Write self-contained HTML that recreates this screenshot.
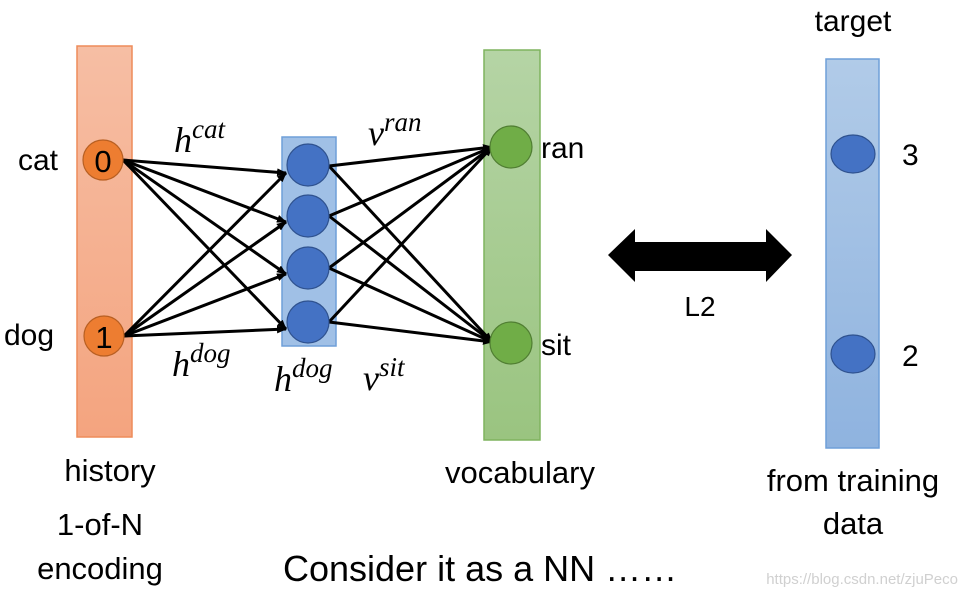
<!DOCTYPE html>
<html><head><meta charset="utf-8"><style>
html,body{margin:0;padding:0;background:#fff;}
svg{display:block;}
text{font-family:"Liberation Sans",sans-serif;fill:#000;}
.m{font-family:"Liberation Serif","DejaVu Serif",serif;font-style:italic;}
</style></head><body>
<svg width="969" height="593" viewBox="0 0 969 593" xmlns="http://www.w3.org/2000/svg">
<defs>
<linearGradient id="go" x1="0" y1="0" x2="0" y2="1"><stop offset="0" stop-color="#f6bea4"/><stop offset="1" stop-color="#f4a47f"/></linearGradient>
<linearGradient id="gg" x1="0" y1="0" x2="0" y2="1"><stop offset="0" stop-color="#b5d4a5"/><stop offset="1" stop-color="#9ac480"/></linearGradient>
<linearGradient id="gb" x1="0" y1="0" x2="0" y2="1"><stop offset="0" stop-color="#b1cbe8"/><stop offset="1" stop-color="#8fb3df"/></linearGradient>
<marker id="ah" markerWidth="10" markerHeight="8" refX="9" refY="4" orient="auto" markerUnits="userSpaceOnUse"><path d="M0,0 L10,4 L0,8 Z" fill="#000"/></marker>
</defs>
<rect x="77" y="46" width="55" height="391" fill="url(#go)" stroke="#ee8c5a" stroke-width="1.5"/>
<rect x="484" y="50" width="56" height="390" fill="url(#gg)" stroke="#7fb35e" stroke-width="1.5"/>
<rect x="282" y="137" width="54" height="209" fill="#a0c0e6" stroke="#6f9fd8" stroke-width="1.5"/>
<rect x="826" y="59" width="53" height="389" fill="url(#gb)" stroke="#6f9fd8" stroke-width="1.5"/>
<g stroke="#000" stroke-width="3" fill="none" marker-end="url(#ah)">
<line x1="123" y1="160" x2="286" y2="173"/>
<line x1="123" y1="160" x2="286" y2="222"/>
<line x1="123" y1="160" x2="286" y2="274"/>
<line x1="123" y1="160" x2="286" y2="329"/>
<line x1="124" y1="336" x2="286" y2="173"/>
<line x1="124" y1="336" x2="286" y2="222"/>
<line x1="124" y1="336" x2="286" y2="274"/>
<line x1="124" y1="336" x2="286" y2="329"/>
<line x1="329" y1="166" x2="492" y2="147"/>
<line x1="329" y1="216" x2="492" y2="147"/>
<line x1="329" y1="268" x2="492" y2="147"/>
<line x1="329" y1="322" x2="492" y2="147"/>
<line x1="329" y1="166" x2="492" y2="342"/>
<line x1="329" y1="216" x2="492" y2="342"/>
<line x1="329" y1="268" x2="492" y2="342"/>
<line x1="329" y1="322" x2="492" y2="342"/>
</g>
<g fill="#ed7d31" stroke="#b85f22" stroke-width="1.2">
<circle cx="103" cy="160" r="20"/><circle cx="104" cy="336" r="20"/></g>
<text x="103" y="172" font-size="31" text-anchor="middle">0</text>
<text x="104" y="348" font-size="31" text-anchor="middle">1</text>
<g fill="#4472c4" stroke="#2f528f" stroke-width="1.2">
<circle cx="308" cy="165" r="21"/><circle cx="308" cy="216" r="21"/><circle cx="308" cy="268" r="21"/><circle cx="308" cy="322" r="21"/>
<ellipse cx="853" cy="154" rx="22" ry="19"/><ellipse cx="853" cy="354" rx="22" ry="19"/></g>
<g fill="#70ad47" stroke="#507e32" stroke-width="1.2">
<circle cx="511" cy="147" r="21"/><circle cx="511" cy="343" r="21"/></g>
<path d="M608,255 L635,229 L635,242 L766,242 L766,229 L792,255 L766,282 L766,271 L635,271 L635,282 Z" fill="#000"/>
<text x="18" y="170" font-size="30">cat</text>
<text x="4" y="345" font-size="30">dog</text>
<text x="541" y="158" font-size="30">ran</text>
<text x="541" y="355" font-size="30">sit</text>
<text x="902" y="165" font-size="30">3</text>
<text x="902" y="366" font-size="30">2</text>
<text x="700" y="316" font-size="28" text-anchor="middle">L2</text>
<text x="853" y="31" font-size="30" text-anchor="middle">target</text>
<text x="110" y="481" font-size="31" text-anchor="middle">history</text>
<text x="100" y="535" font-size="31" text-anchor="middle">1-of-N</text>
<text x="100" y="579" font-size="31" text-anchor="middle">encoding</text>
<text x="520" y="483" font-size="31" text-anchor="middle">vocabulary</text>
<text x="853" y="491" font-size="31" text-anchor="middle">from training</text>
<text x="853" y="534" font-size="31" text-anchor="middle">data</text>
<text x="283" y="581" font-size="36">Consider it as a NN ……</text>
<text x="958" y="584" font-size="15" text-anchor="end" style="fill:#d0d0d0">https://blog.csdn.net/zjuPeco</text>
<text class="m" x="174" y="152" font-size="36">h<tspan dy="-14" font-size="27">cat</tspan></text>
<text class="m" x="368" y="145" font-size="36">v<tspan dy="-14" font-size="27">ran</tspan></text>
<text class="m" x="172" y="376" font-size="36">h<tspan dy="-14" font-size="27">dog</tspan></text>
<text class="m" x="274" y="391" font-size="36">h<tspan dy="-14" font-size="27">dog</tspan></text>
<text class="m" x="363" y="390" font-size="36">v<tspan dy="-14" font-size="27">sit</tspan></text>
</svg>
</body></html>
